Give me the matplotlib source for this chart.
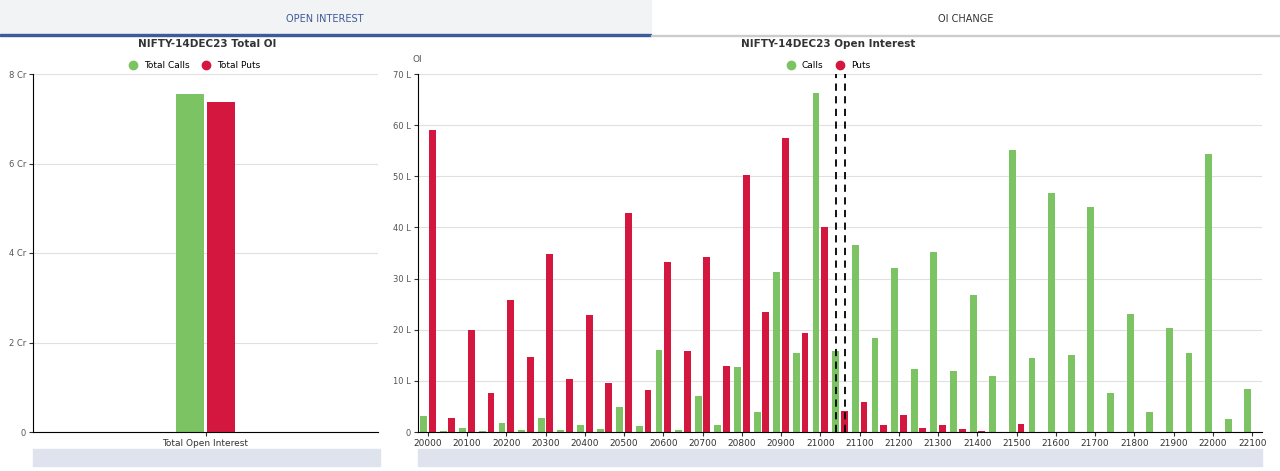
import matplotlib
matplotlib.use("Agg")
import matplotlib.pyplot as plt
from matplotlib.patches import Rectangle
import numpy as np

strikes = list(range(20000, 22101, 50))
calls = [3.2, 0.1, 0.8, 0.2, 1.7, 0.3, 2.7, 0.3, 1.3, 0.6, 4.8, 1.1, 16.0, 0.4, 7.0, 1.3,
         12.8, 3.9, 31.3, 15.5, 66.3, 15.8, 36.5, 18.3, 32.0, 12.4, 35.2, 11.9, 26.8, 11.0,
         55.2, 14.5, 46.8, 15.0, 44.0, 7.6, 23.0, 3.9, 20.3, 15.4, 54.4, 2.5, 8.5]
puts = [59.0, 2.7, 20.0, 7.7, 25.8, 14.7, 34.8, 10.3, 22.8, 9.5, 42.8, 8.3, 33.3, 15.8, 34.3, 12.9,
        50.3, 23.4, 57.5, 19.3, 40.0, 4.1, 5.9, 1.3, 3.4, 0.8, 1.4, 0.5, 0.2, 0.05,
        1.5, 0, 0, 0, 0, 0, 0, 0, 0, 0, 0, 0, 0]
total_labels = ["Total Calls", "Total Puts"]
total_values = [7.55, 7.38]
dash_positions = [20.8, 21.25]

GREEN = "#7cc364"
RED = "#d4173f"
W, H = 1280, 471
fig = plt.figure(figsize=(W/100, H/100), dpi=100)

def ax_rect(x0, y0, x1, y1):
    return [x0/W, 1-y1/H, (x1-x0)/W, (y1-y0)/H]

# tabs
fig.patches.append(Rectangle((0, 1-35/H), 651/W, 35/H, transform=fig.transFigure, color="#f2f3f5", zorder=0))
fig.patches.append(Rectangle((0, 1-36/H), 651/W, 2/H, transform=fig.transFigure, color="#3d5a9a"))
fig.patches.append(Rectangle((651/W, 1-36/H), 629/W, 1/H, transform=fig.transFigure, color="#cccccc"))
fig.text(325/W, 1-19/H, "OPEN INTEREST", ha="center", va="center", fontsize=7, color="#3d5a9a")
fig.text(966/W, 1-19/H, "OI CHANGE", ha="center", va="center", fontsize=7, color="#333333")

# sliders
for x0, x1 in [(33, 380), (418, 1262)]:
    fig.patches.append(Rectangle((x0/W, 1-466/H), (x1-x0)/W, 17/H, transform=fig.transFigure,
                                 color="#dfe3ee", zorder=0))

# left axes
axl = fig.add_axes(ax_rect(33, 74, 378, 432))
xl = np.arange(1)
axl.bar(-0.2, total_values[0], width=0.35, color=GREEN)
axl.bar(0.2, total_values[1], width=0.35, color=RED)
axl.set_xlim(-2.2, 2.2)
axl.set_ylim(0, 8)
axl.set_yticks([0, 2, 4, 6, 8])
axl.set_yticklabels(["0", "2 Cr", "4 Cr", "6 Cr", "8 Cr"], fontsize=6, color="#555")
axl.set_xticks([0])
axl.set_xticklabels(["Total Open Interest"], fontsize=6.5, color="#333")
axl.tick_params(length=3, pad=2, color="#333")
for s in ["top", "right"]:
    axl.spines[s].set_visible(False)
axl.grid(axis="y", color="#e0e0e0", lw=0.8)
axl.set_axisbelow(True)
fig.text(207/W, 1-44/H, "NIFTY-14DEC23 Total OI", ha="center", va="center", fontsize=7.5, fontweight="bold", color="#333")
hl = axl.legend([plt.Line2D([], [], marker="o", ls="", color=GREEN, ms=6),
                 plt.Line2D([], [], marker="o", ls="", color=RED, ms=6)], total_labels,
                loc="center", bbox_to_anchor=(192/W, 1-66/H), bbox_transform=fig.transFigure,
                ncol=2, frameon=False, fontsize=6.5, handletextpad=0.2, columnspacing=0.8)

# right axes
axr = fig.add_axes(ax_rect(418, 74, 1262, 432))
idx = np.arange(len(strikes))
bw = 0.35
axr.bar(idx - 0.22, calls, width=bw, color=GREEN)
axr.bar(idx + 0.22, puts, width=bw, color=RED)
for p in dash_positions:
    axr.axvline(p, color="black", ls=(0, (4, 3)), lw=1.3)
axr.set_xlim(-0.5, len(strikes) - 0.5)
axr.set_ylim(0, 70)
axr.set_yticks(range(0, 71, 10))
axr.set_yticklabels(["0"] + [f"{v} L" for v in range(10, 71, 10)], fontsize=6, color="#555")
axr.set_xticks(idx[::2])
axr.set_xticklabels([str(s) for s in strikes[::2]], fontsize=6.5, color="#333")
axr.set_xticks(idx[1::2] + 0.5, minor=False) if False else None
axr.tick_params(length=3, pad=2, color="#333")
for s in ["top", "right"]:
    axr.spines[s].set_visible(False)
axr.grid(axis="y", color="#e0e0e0", lw=0.8)
axr.set_axisbelow(True)
fig.text(828/W, 1-44/H, "NIFTY-14DEC23 Open Interest", ha="center", va="center", fontsize=7.5, fontweight="bold", color="#333")
fig.text(417/W, 1-60/H, "OI", ha="center", va="center", fontsize=6.5, color="#555")
axr.legend([plt.Line2D([], [], marker="o", ls="", color=GREEN, ms=6),
            plt.Line2D([], [], marker="o", ls="", color=RED, ms=6)], ["Calls", "Puts"],
           loc="center", bbox_to_anchor=(826/W, 1-66/H), bbox_transform=fig.transFigure,
           ncol=2, frameon=False, fontsize=6.5, handletextpad=0.2, columnspacing=0.8)

fig.savefig("out.png", dpi=100)
